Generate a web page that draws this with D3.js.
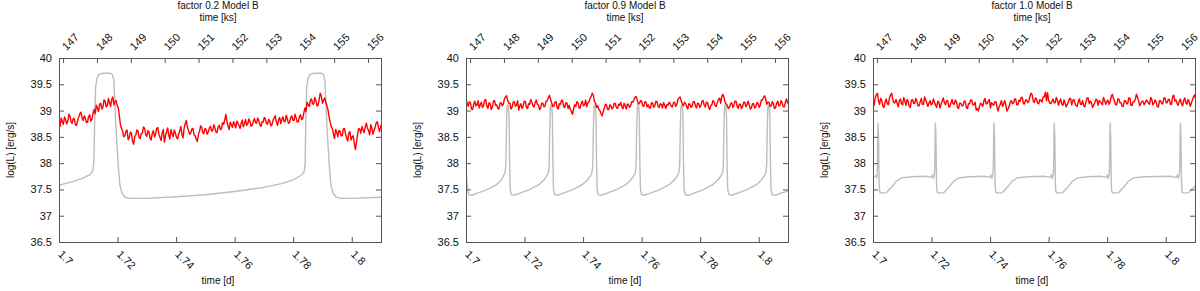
<!DOCTYPE html>
<html>
<head>
<meta charset="utf-8">
<script src="https://d3js.org/d3.v7.min.js"></script>
<style>
  body { margin: 0; background: #fff; }
  svg { display: block; font-family: Arial, 'Liberation Sans', sans-serif; }
</style>
</head>
<body>
<script>
// one panel per model run
let titles = ['factor 0.2 Model B', 'factor 0.9 Model B', 'factor 1.0 Model B']

// tick values
let dayTicks = [1.7, 1.72, 1.74, 1.76, 1.78, 1.8]
let ksTicks = [147, 148, 149, 150, 151, 152, 153, 154, 155, 156]
let logTicks = [36.5, 37, 37.5, 38, 38.5, 39, 39.5, 40]

// red (noisy) light curves, one sample every redStep days starting at 1.7 d
let redStep = 0.000375
let red02 = [
  38.78, 38.70, 38.86, 38.79, 38.74, 38.88, 38.83, 38.75, 38.79, 38.93,
  38.90, 38.78, 38.76, 38.85, 38.84, 38.73, 38.72, 38.81, 38.88, 38.94,
  38.97, 38.86, 38.81, 38.90, 38.86, 38.77, 38.78, 38.89, 38.92, 38.80,
  38.83, 38.95,
  39.02, 38.94, 39.10, 39.05, 38.98, 39.12, 39.14, 39.03, 39.06, 39.20,
  39.18, 39.07, 39.09, 39.23, 39.15, 39.08, 39.21, 39.26, 39.11, 39.17,
  39.19, 39.10,
  39.05, 38.90, 38.72, 38.66, 38.60, 38.50,
  38.52, 38.61, 38.63, 38.45, 38.48, 38.59, 38.57, 38.42, 38.36, 38.50,
  38.54, 38.63, 38.61, 38.49, 38.47, 38.56, 38.58, 38.69, 38.66, 38.54,
  38.51, 38.62, 38.59, 38.47, 38.44, 38.57, 38.62, 38.50, 38.55, 38.66,
  38.68, 38.55, 38.49, 38.43, 38.57, 38.64, 38.40, 38.52, 38.60, 38.67,
  38.53, 38.46, 38.64, 38.56, 38.50, 38.63, 38.58, 38.49, 38.46, 38.55,
  38.61, 38.70, 38.55, 38.48, 38.67, 38.75, 38.81, 38.68, 38.62, 38.55,
  38.57, 38.65, 38.66, 38.54, 38.52, 38.46, 38.41, 38.55, 38.60, 38.71,
  38.68, 38.58, 38.56, 38.66, 38.64, 38.55, 38.59, 38.67, 38.70, 38.61,
  38.62, 38.73, 38.67, 38.59, 38.58, 38.69, 38.72, 38.64, 38.65, 38.77,
  38.74, 38.82, 38.93, 38.80,
  38.70, 38.64, 38.78, 38.73, 38.68, 38.79, 38.74, 38.67, 38.80, 38.76,
  38.71, 38.66, 38.77, 38.82, 38.69, 38.75, 38.83, 38.72, 38.75, 38.84,
  38.79, 38.70, 38.72, 38.80, 38.85, 38.77, 38.76, 38.86, 38.81, 38.73,
  38.70, 38.79, 38.78, 38.87, 38.84, 38.75, 38.74, 38.83, 38.80, 38.71,
  38.73, 38.82, 38.86, 38.90, 38.78, 38.72, 38.82, 38.87, 38.75, 38.83,
  38.88, 38.79, 38.79, 38.91, 38.84, 38.76, 38.77, 38.87, 38.90, 38.82,
  38.81, 38.93, 38.86, 38.78, 38.79, 38.88, 38.92, 38.83, 38.84, 38.95,
  39.05, 38.98, 39.16, 39.11, 39.08, 39.20, 39.22, 39.13, 39.12, 39.25,
  39.19, 39.09, 39.10, 39.21, 39.33, 39.27, 39.14, 39.20, 39.24, 39.16,
  39.10, 39.02, 38.88, 38.78, 38.70, 38.66,
  38.55, 38.47, 38.64, 38.59, 38.50, 38.62, 38.61, 38.52, 38.53, 38.65,
  38.66, 38.56, 38.48, 38.42, 38.57, 38.60, 38.44, 38.50, 38.52, 38.38,
  38.26, 38.40,
  38.55, 38.66, 38.64, 38.57, 38.70, 38.63, 38.58, 38.69, 38.76, 38.66,
  38.62, 38.54, 38.73, 38.66, 38.55, 38.62, 38.68, 38.77, 38.79, 38.68,
  38.60, 38.71, 38.72, 38.65
]
let red09 = [
  39.22, 39.14, 39.08, 39.17, 39.15, 39.03, 39.02, 39.12, 39.18, 39.09,
  39.10, 39.19, 39.05, 39.11, 39.16, 39.06, 39.09, 39.20, 39.21, 39.08,
  39.04, 39.15, 39.13, 39.02, 39.07, 39.18, 39.19, 39.10, 39.11, 39.04,
  39.03, 39.14, 39.15, 39.09, 39.12, 39.22, 39.26, 39.28, 39.19, 39.14,
  39.14, 39.03, 39.06, 39.16, 39.17, 39.08, 39.10, 39.19, 39.01, 39.09,
  39.13, 39.04, 39.08, 39.17, 39.18, 39.06, 39.04, 39.13, 39.12, 39.21,
  39.16, 39.09, 39.07, 39.15, 39.20, 39.12, 39.11, 39.02, 39.05, 39.14,
  39.14, 39.07, 39.09, 39.18, 39.19, 39.24, 39.29, 39.22, 39.15, 39.08,
  39.08, 39.16, 39.17, 39.06, 39.03, 39.13, 39.12, 39.20, 39.19, 39.07,
  39.06, 39.15, 39.14, 39.04, 39.10, 39.02, 38.98, 38.93, 39.03, 39.11,
  39.08, 39.17, 39.15, 39.05, 39.05, 39.14, 39.18, 39.09, 39.11, 39.20,
  39.07, 39.15, 39.16, 39.23, 39.27, 39.33, 39.29, 39.17, 39.14, 39.06,
  39.09, 39.02, 39.00, 38.94, 38.90, 38.98, 39.05, 39.12, 39.11, 39.02,
  39.02, 39.11, 39.09, 39.03, 39.06, 39.14, 39.13, 39.05, 39.04, 39.12,
  39.10, 39.16, 39.07, 39.03, 39.14, 39.09, 39.03, 39.12, 39.12, 39.06,
  39.09, 39.17, 39.16, 39.21, 39.25, 39.27, 39.20, 39.13, 39.13, 39.19,
  39.18, 39.09, 39.08, 39.17, 39.16, 39.07, 39.11, 39.05, 39.05, 39.15,
  39.14, 39.06, 39.09, 39.18, 39.17, 39.08, 39.06, 39.13, 39.12, 39.05,
  39.15, 39.10, 39.04, 39.11, 39.10, 39.16, 39.13, 39.08, 39.07, 39.15,
  39.16, 39.08, 39.11, 39.21, 39.24, 39.26, 39.19, 39.13, 39.09, 39.16,
  39.14, 39.07, 39.03, 39.13, 39.12, 39.06, 39.08, 39.17, 39.17, 39.09,
  39.05, 39.14, 39.13, 39.06, 39.10, 39.18, 39.19, 39.10, 39.07, 39.16,
  39.15, 39.06, 39.02, 39.10, 39.11, 39.19, 39.17, 39.09, 39.08, 39.16,
  39.21, 39.24, 39.14, 39.27, 39.31, 39.25, 39.16, 39.12, 39.10, 39.04,
  39.06, 39.13, 39.15, 39.06, 39.09, 39.18, 39.18, 39.08, 39.04, 39.12,
  39.12, 39.04, 39.08, 39.16, 39.16, 39.07, 39.11, 39.18, 39.11, 39.03,
  39.05, 39.13, 39.13, 39.05, 39.07, 39.15, 39.14, 39.06, 39.10, 39.20,
  39.20, 39.25, 39.28, 39.22, 39.12, 39.16, 39.16, 39.08, 39.09, 39.17,
  39.13, 39.04, 39.05, 39.14, 39.18, 39.09, 39.10, 39.19, 39.15, 39.07,
  39.07, 39.16, 39.22, 39.15, 39.12, 39.18
]
let red10 = [
  39.18, 39.10, 39.24, 39.30, 39.33, 39.19, 39.12, 39.23, 39.20, 39.08,
  39.06, 39.16, 39.22, 39.13, 39.11, 39.24, 39.30, 39.33, 39.22, 39.15,
  39.15, 39.21, 39.14, 39.07, 39.19, 39.22, 39.13, 39.11, 39.25, 39.18,
  39.10, 39.21, 39.18, 39.08, 39.06, 39.20, 39.21, 39.14, 39.14, 39.23,
  39.18, 39.09, 39.09, 39.17, 39.23, 39.12, 39.12, 39.26, 39.20, 39.15,
  39.08, 39.14, 39.19, 39.11, 39.13, 39.22, 39.16, 39.10, 39.06, 39.18,
  39.16, 39.05, 39.12, 39.18, 39.24, 39.15, 39.11, 39.19, 39.19, 39.07,
  39.07, 39.15, 39.21, 39.13, 39.12, 39.20, 39.17, 39.06, 39.04, 39.14,
  39.14, 39.09, 39.09, 39.18, 39.18, 39.06, 39.04, 39.13, 39.13, 39.20,
  39.20, 39.11, 39.11, 39.16, 39.01, 39.04, 38.99, 39.08, 39.14, 39.12,
  39.08, 39.18, 39.23, 39.13, 39.13, 39.18, 39.21, 39.05, 39.15, 39.12,
  39.10, 39.17, 39.17, 39.06, 38.99, 39.08, 39.12, 39.19, 39.08, 39.13,
  39.19, 39.11, 38.99, 39.03, 39.08, 39.16, 39.19, 39.13, 39.14, 39.22,
  39.22, 39.11, 39.11, 39.20, 39.17, 39.25, 39.25, 39.13, 39.13, 39.20,
  39.20, 39.15, 39.18, 39.27, 39.33, 39.30, 39.18, 39.15, 39.24, 39.22,
  39.14, 39.13, 39.21, 39.19, 39.16, 39.26, 39.26, 39.35, 39.19, 39.34,
  39.20, 39.14, 39.13, 39.18, 39.22, 39.15, 39.15, 39.25, 39.20, 39.10,
  39.18, 39.22, 39.12, 39.10, 39.20, 39.14, 39.07, 39.12, 39.16, 39.23,
  39.23, 39.11, 39.19, 39.21, 39.14, 39.09, 39.08, 39.17, 39.22, 39.12,
  39.12, 39.19, 39.09, 39.07, 39.16, 39.24, 39.24, 39.13, 39.18, 39.15,
  39.06, 39.10, 39.15, 39.21, 39.21, 39.10, 39.19, 39.17, 39.14, 39.11,
  39.25, 39.19, 39.12, 39.17, 39.20, 39.12, 39.16, 39.27, 39.31, 39.24,
  39.18, 39.11, 39.11, 39.22, 39.22, 39.15, 39.15, 39.08, 39.08, 39.19,
  39.19, 39.13, 39.13, 39.24, 39.24, 39.10, 39.10, 39.17, 39.17, 39.22,
  39.31, 39.25, 39.18, 39.09, 39.14, 39.18, 39.18, 39.11, 39.15, 39.20,
  39.18, 39.14, 39.12, 39.25, 39.21, 39.11, 39.14, 39.20, 39.16, 39.07,
  39.07, 39.19, 39.19, 39.13, 39.13, 39.24, 39.24, 39.15, 39.15, 39.21,
  39.21, 39.12, 39.12, 39.27, 39.29, 39.18, 39.20, 39.14, 39.10, 39.18,
  39.22, 39.13, 39.09, 39.19, 39.24, 39.15, 39.12, 39.21, 39.17, 39.08,
  39.14, 39.20, 39.26, 39.30, 39.22, 39.16
]

// grey model curves as [time (d), log(L)]
let grey02 = [
  [1.7000, 37.58], [1.7040, 37.64], [1.7080, 37.71], [1.7105, 37.78], [1.7115, 37.85], [1.7119, 38.00],
  [1.7122, 38.80], [1.7125, 39.45], [1.7130, 39.62], [1.7137, 39.69], [1.7150, 39.71], [1.7175, 39.71],
  [1.7183, 39.68], [1.7187, 39.58], [1.7190, 39.25], [1.7194, 38.75], [1.7198, 38.35], [1.7203, 37.90],
  [1.7208, 37.58], [1.7215, 37.43], [1.7225, 37.36], [1.7240, 37.33], [1.7300, 37.33], [1.7400, 37.36],
  [1.7500, 37.40], [1.7600, 37.46], [1.7700, 37.54], [1.7760, 37.61], [1.7800, 37.68], [1.7825, 37.76],
  [1.7833, 37.80], [1.7838, 37.85], [1.7841, 38.00], [1.7843, 38.80], [1.7846, 39.45], [1.7851, 39.62],
  [1.7858, 39.69], [1.7871, 39.71], [1.7896, 39.71], [1.7904, 39.68], [1.7908, 39.58], [1.7911, 39.25],
  [1.7915, 38.75], [1.7919, 38.35], [1.7924, 37.90], [1.7929, 37.58], [1.7936, 37.43], [1.7946, 37.36],
  [1.7961, 37.33], [1.8000, 37.33], [1.8100, 37.35]
]
let grey09 = [
  [1.7000, 38.10], [1.7002, 37.70], [1.7006, 37.50], [1.7010, 37.40], [1.7021, 37.39], [1.7035, 37.42],
  [1.7070, 37.49], [1.7104, 37.59], [1.7121, 37.68],
  [1.7126, 37.74], [1.7133, 37.81], [1.7136, 37.95], [1.7138, 38.6], [1.7140, 39.05], [1.7142, 39.10],
  [1.7145, 39.08], [1.7147, 38.9], [1.7149, 38.0], [1.7151, 37.5], [1.7155, 37.40], [1.7166, 37.39],
  [1.7180, 37.42], [1.7215, 37.49], [1.7249, 37.59], [1.7266, 37.68],
  [1.7274, 37.74], [1.7281, 37.81], [1.7284, 37.95], [1.7286, 38.6], [1.7288, 39.05], [1.7290, 39.10],
  [1.7293, 39.08], [1.7295, 38.9], [1.7297, 38.0], [1.7299, 37.5], [1.7303, 37.40], [1.7314, 37.39],
  [1.7328, 37.42], [1.7363, 37.49], [1.7397, 37.59], [1.7414, 37.68],
  [1.7423, 37.74], [1.7430, 37.81], [1.7433, 37.95], [1.7435, 38.6], [1.7437, 39.05], [1.7439, 39.10],
  [1.7442, 39.08], [1.7444, 38.9], [1.7446, 38.0], [1.7448, 37.5], [1.7452, 37.40], [1.7463, 37.39],
  [1.7477, 37.42], [1.7512, 37.49], [1.7546, 37.59], [1.7563, 37.68],
  [1.7571, 37.74], [1.7578, 37.81], [1.7581, 37.95], [1.7583, 38.6], [1.7585, 39.05], [1.7587, 39.10],
  [1.7590, 39.08], [1.7592, 38.9], [1.7594, 38.0], [1.7596, 37.5], [1.7600, 37.40], [1.7611, 37.39],
  [1.7625, 37.42], [1.7660, 37.49], [1.7694, 37.59], [1.7711, 37.68],
  [1.7720, 37.74], [1.7727, 37.81], [1.7730, 37.95], [1.7732, 38.6], [1.7734, 39.05], [1.7736, 39.10],
  [1.7739, 39.08], [1.7741, 38.9], [1.7743, 38.0], [1.7745, 37.5], [1.7749, 37.40], [1.7760, 37.39],
  [1.7774, 37.42], [1.7809, 37.49], [1.7843, 37.59], [1.7860, 37.68],
  [1.7869, 37.74], [1.7876, 37.81], [1.7879, 37.95], [1.7881, 38.6], [1.7883, 39.05], [1.7885, 39.10],
  [1.7888, 39.08], [1.7890, 38.9], [1.7892, 38.0], [1.7894, 37.5], [1.7898, 37.40], [1.7909, 37.39],
  [1.7923, 37.42], [1.7958, 37.49], [1.7992, 37.59], [1.8009, 37.68],
  [1.8017, 37.74], [1.8024, 37.81], [1.8027, 37.95], [1.8029, 38.6], [1.8031, 39.05], [1.8033, 39.10],
  [1.8036, 39.08], [1.8038, 38.9], [1.8040, 38.0], [1.8042, 37.5], [1.8046, 37.40], [1.8057, 37.39],
  [1.8071, 37.42], [1.8100, 37.47]
]
let grey10 = [
  [1.7000, 37.75], [1.7006, 37.74], [1.7010, 37.76], [1.7013, 37.73],
  [1.7015, 37.90], [1.7017, 38.77], [1.7019, 38.50], [1.7021, 37.60], [1.7023, 37.45], [1.7029, 37.43],
  [1.7046, 37.44], [1.7063, 37.54], [1.7080, 37.66], [1.7097, 37.72], [1.7132, 37.74], [1.7180, 37.75],
  [1.7199, 37.73], [1.7203, 37.77], [1.7206, 37.72], [1.7209, 37.76],
  [1.7211, 37.90], [1.7213, 38.77], [1.7215, 38.50], [1.7217, 37.60], [1.7219, 37.45], [1.7225, 37.43],
  [1.7242, 37.44], [1.7259, 37.54], [1.7276, 37.66], [1.7293, 37.72], [1.7328, 37.74], [1.7380, 37.75],
  [1.7399, 37.73], [1.7403, 37.77], [1.7406, 37.72], [1.7409, 37.76],
  [1.7411, 37.90], [1.7413, 38.77], [1.7415, 38.50], [1.7417, 37.60], [1.7419, 37.45], [1.7425, 37.43],
  [1.7442, 37.44], [1.7459, 37.54], [1.7476, 37.66], [1.7493, 37.72], [1.7528, 37.74], [1.7585, 37.75],
  [1.7605, 37.73], [1.7609, 37.77], [1.7612, 37.72], [1.7615, 37.76],
  [1.7617, 37.90], [1.7619, 38.77], [1.7621, 38.50], [1.7623, 37.60], [1.7625, 37.45], [1.7631, 37.43],
  [1.7648, 37.44], [1.7665, 37.54], [1.7682, 37.66], [1.7699, 37.72], [1.7734, 37.74], [1.7777, 37.75],
  [1.7796, 37.73], [1.7800, 37.77], [1.7803, 37.72], [1.7806, 37.76],
  [1.7808, 37.90], [1.7810, 38.77], [1.7812, 38.50], [1.7814, 37.60], [1.7816, 37.45], [1.7822, 37.43],
  [1.7839, 37.44], [1.7856, 37.54], [1.7873, 37.66], [1.7890, 37.72], [1.7925, 37.74], [1.8015, 37.75],
  [1.8036, 37.73], [1.8040, 37.77], [1.8043, 37.72], [1.8046, 37.76],
  [1.8048, 37.90], [1.8050, 38.77], [1.8052, 38.50], [1.8054, 37.60], [1.8056, 37.45], [1.8062, 37.43],
  [1.8079, 37.44], [1.8096, 37.54], [1.8100, 37.57]
]

let reds = [red02, red09, red10]
let greys = [grey02, grey09, grey10]

// measurements (gnuplot-like layout, three panels side by side)
let m = {
  width: 1200,
  height: 291,
  top: 58,
  bottom: 242,
  plotWidth: 322,
  tick: 5,
}
let lefts = [59, 466, 873]

let svg = d3.select('body')
  .append('svg')
  .attr('width', m.width)
  .attr('height', m.height)

let yScale = d3.scaleLinear()
  .domain([36.5, 40])
  .range([m.bottom, m.top])

titles.forEach(function(title, p) {
  let left = lefts[p]
  let right = left + m.plotWidth

  let xScale = d3.scaleLinear()
    .domain([1.7, 1.81])
    .range([left, right])

  // same span in kiloseconds for the top axis
  let ksScale = d3.scaleLinear()
    .domain([1.7 * 86.4, 1.81 * 86.4])
    .range([left, right])

  let g = svg.append('g')

  g.append('clipPath')
    .attr('id', 'clip' + p)
    .append('rect')
    .attr('x', left)
    .attr('y', m.top)
    .attr('width', m.plotWidth)
    .attr('height', m.bottom - m.top)

  let line = d3.line()
    .x(function(d) { return xScale(d[0]) })
    .y(function(d) { return yScale(d[1]) })

  g.append('path')
    .datum(greys[p])
    .attr('clip-path', 'url(#clip' + p + ')')
    .attr('fill', 'none')
    .attr('stroke', '#bdbdbd')
    .attr('stroke-width', 1.4)
    .attr('d', line)

  let redData = reds[p].map(function(v, i) { return [1.7 + i * redStep, v] })
  g.append('path')
    .datum(redData)
    .attr('clip-path', 'url(#clip' + p + ')')
    .attr('fill', 'none')
    .attr('stroke', '#ff0000')
    .attr('stroke-width', 1.4)
    .attr('stroke-linejoin', 'round')
    .attr('d', line)

  // axes, ticks point inwards like gnuplot
  let bottomAxis = g.append('g')
    .attr('transform', 'translate(0,' + m.bottom + ')')
    .call(d3.axisBottom(xScale).tickValues(dayTicks).tickSizeInner(-m.tick).tickSizeOuter(0).tickFormat(d3.format('~g')))
  bottomAxis.selectAll('text')
    .attr('x', 0).attr('y', 0).attr('dy', null)
    .attr('text-anchor', 'start')
    .attr('transform', 'translate(-2,13) rotate(45)')

  let topAxis = g.append('g')
    .attr('transform', 'translate(0,' + m.top + ')')
    .call(d3.axisTop(ksScale).tickValues(ksTicks).tickSizeInner(-m.tick).tickSizeOuter(0).tickFormat(d3.format('d')))
  topAxis.selectAll('text')
    .attr('x', 0).attr('y', 0).attr('dy', null)
    .attr('text-anchor', 'start')
    .attr('transform', 'translate(3,-7) rotate(-45)')

  let leftAxis = g.append('g')
    .attr('transform', 'translate(' + left + ',0)')
    .call(d3.axisLeft(yScale).tickValues(logTicks).tickSizeInner(-m.tick).tickSizeOuter(0).tickFormat(d3.format('~g')))
  leftAxis.selectAll('text')
    .attr('x', -7)

  g.append('g')
    .attr('transform', 'translate(' + right + ',0)')
    .call(d3.axisRight(yScale).tickValues(logTicks).tickSizeInner(-m.tick).tickSizeOuter(0).tickFormat(''))

  g.selectAll('.domain').remove()
  g.selectAll('.tick line').attr('stroke', '#555')
  g.selectAll('.tick text')
    .attr('font-size', 11)
    .attr('font-family', 'Arial, Liberation Sans, sans-serif')
    .attr('fill', '#111')

  // frame
  g.append('rect')
    .attr('x', left)
    .attr('y', m.top)
    .attr('width', m.plotWidth)
    .attr('height', m.bottom - m.top)
    .attr('fill', 'none')
    .attr('stroke', '#555')
    .attr('stroke-width', 1)
    .attr('shape-rendering', 'crispEdges')

  // titles and axis labels
  let cx = (left + right) / 2 - 2
  g.append('text')
    .attr('x', cx).attr('y', 9)
    .attr('text-anchor', 'middle')
    .attr('font-size', 10)
    .attr('fill', '#111')
    .text(title)

  g.append('text')
    .attr('x', cx).attr('y', 20.5)
    .attr('text-anchor', 'middle')
    .attr('font-size', 10)
    .attr('fill', '#111')
    .text('time [ks]')

  g.append('text')
    .attr('x', cx).attr('y', 284)
    .attr('text-anchor', 'middle')
    .attr('font-size', 10)
    .attr('fill', '#111')
    .text('time [d]')

  g.append('text')
    .attr('transform', 'translate(' + (left - 45) + ',' + ((m.top + m.bottom) / 2) + ') rotate(-90)')
    .attr('text-anchor', 'middle')
    .attr('font-size', 10)
    .attr('fill', '#111')
    .text('log(L) [erg/s]')
})
</script>
</body>
</html>
